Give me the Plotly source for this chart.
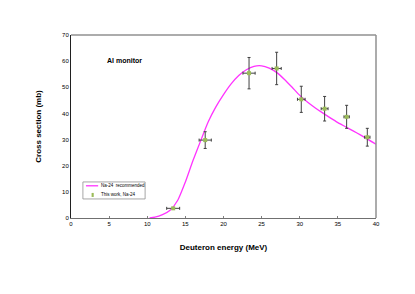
import plotly.graph_objects as go

# Recommended Na-24 curve
curve_E = [10.3, 11, 12, 13, 14, 15, 16, 17, 18, 19, 20, 21, 22, 23, 24, 25, 26, 27, 28, 29, 30,
           31, 32, 33, 34, 35, 36, 37, 38, 39, 40]
curve_sigma = [0.0, 0.3, 1.3, 3.0, 6.8, 13.8, 22.0, 29.5, 36.8, 42.5, 47.2, 51.3, 54.5, 56.7, 58.0,
               58.2, 57.3, 55.6, 53.0, 50.0, 46.9, 44.4, 42.2, 40.2, 38.3, 36.5, 34.9, 33.3, 31.7,
               30.0, 28.2]

# This work, Na-24
exp_E = [13.4, 17.6, 23.35, 26.97, 30.2, 33.26, 36.15, 38.86]
exp_E_err = [0.85, 0.8, 0.8, 0.6, 0.5, 0.45, 0.35, 0.35]
exp_sigma = [3.7, 29.8, 55.4, 57.2, 45.4, 41.8, 38.7, 30.9]
exp_sigma_err = [0.0, 3.2, 6.0, 6.2, 5.0, 4.7, 4.4, 3.4]

x_ticks = [0, 5, 10, 15, 20, 25, 30, 35, 40]
y_ticks = [0, 10, 20, 30, 40, 50, 60, 70]

legend_names = ["Na-24  recommended", "This work, Na-24"]
LINE_COLOR = "#FF33FF"
MARKER_COLOR = "#9BBB59"

FONT = "Liberation Sans, Arial, sans-serif"

fig = go.Figure()
fig.add_trace(go.Scatter(
    x=curve_E, y=curve_sigma, mode="lines", name=legend_names[0],
    line=dict(color=LINE_COLOR, width=1.3, shape="spline", smoothing=0.6),
))
fig.add_trace(go.Scatter(
    x=exp_E, y=exp_sigma, mode="markers", name=legend_names[1],
    marker=dict(symbol="square", size=4, color=MARKER_COLOR),
    error_x=dict(type="data", array=exp_E_err, color="#404040", thickness=1, width=1.5),
    error_y=dict(type="data", array=exp_sigma_err, color="#404040", thickness=1, width=1.5),
))

fig.add_annotation(x=0.177, y=0.858, xref="paper", yref="paper", text="<b>Al monitor</b>",
                   showarrow=False, xanchor="center", yanchor="middle",
                   font=dict(size=7, color="black", family=FONT))

# compact legend (drawn by hand, Excel-like)
for i, name in enumerate(legend_names):
    fig.add_annotation(x=0.092, y=[0.176, 0.126][i], xref="paper", yref="paper", text=name,
                       showarrow=False, xanchor="left", yanchor="middle",
                       font=dict(size=4.5, color="black", family=FONT))

shapes = [
    dict(type="line", xref="paper", yref="paper", x0=0, x1=1, y0=1, y1=1,
         line=dict(color="#909090", width=1.5)),
    dict(type="line", xref="paper", yref="paper", x0=1, x1=1, y0=0, y1=1,
         line=dict(color="#909090", width=1.5)),
    dict(type="rect", xref="paper", yref="paper", x0=0.039, x1=0.243, y0=0.104, y1=0.197,
         line=dict(color="#909090", width=0.8), fillcolor="white", layer="above"),
    dict(type="line", xref="paper", yref="paper", x0=0.049, x1=0.089, y0=0.176, y1=0.176,
         line=dict(color=LINE_COLOR, width=1.3), layer="above"),
    dict(type="rect", xref="paper", yref="paper", x0=0.0675, x1=0.0745, y0=0.115, y1=0.137,
         line=dict(width=0), fillcolor=MARKER_COLOR, layer="above"),
]

fig.update_layout(
    width=407, height=286,
    margin=dict(l=63, r=39, t=27, b=76),
    paper_bgcolor="white", plot_bgcolor="white",
    font=dict(family=FONT, size=6, color="black"),
    showlegend=False,
    xaxis=dict(range=[0, 40], tickvals=x_ticks, ticks="inside", ticklen=2, tickcolor="#808080",
               showgrid=False, zeroline=False, showline=True, linecolor="#707070", linewidth=1.2,
               mirror=False, tickfont=dict(size=6),
               title=dict(text="<b>Deuteron energy (MeV)</b>", font=dict(size=8), standoff=18)),
    yaxis=dict(range=[0, 70], tickvals=y_ticks, ticks="", showgrid=False, zeroline=False,
               showline=True, linecolor="#202020", linewidth=1, tickfont=dict(size=6),
               title=dict(text="<b>Cross section (mb)</b>", font=dict(size=8), standoff=19)),
    shapes=shapes,
)

fig.write_html("out.html")
